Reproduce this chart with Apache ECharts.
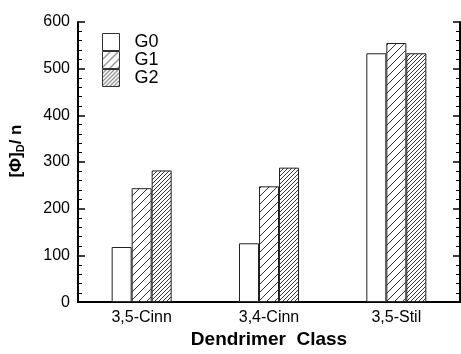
<!DOCTYPE html>
<html><head><meta charset="utf-8">
<script src="https://cdn.jsdelivr.net/npm/echarts@6/dist/echarts.min.js"></script>
<style>html,body{margin:0;padding:0;background:#fff}#c{width:461px;height:354px}</style>
</head><body><div id="c"></div>
<script>
var categories = ['3,5-Cinn', '3,4-Cinn', '3,5-Stil'];
var seriesNames = ['G0', 'G1', 'G2'];
var g0 = [118, 126, 533];
var g1 = [244, 248, 555];
var g2 = [282, 288, 533];
var yTicks = [0, 100, 200, 300, 400, 500, 600];

function hatch(step) {
  var c = document.createElement('canvas');
  c.width = step; c.height = step;
  var ctx = c.getContext('2d');
  ctx.fillStyle = '#fff'; ctx.fillRect(0, 0, step, step);
  ctx.strokeStyle = '#000'; ctx.lineWidth = 0.8;
  ctx.beginPath();
  ctx.moveTo(0, step); ctx.lineTo(step, 0);
  ctx.moveTo(-1, 1); ctx.lineTo(1, -1);
  ctx.moveTo(step - 1, step + 1); ctx.lineTo(step + 1, step - 1);
  ctx.stroke();
  return c;
}
var fills = ['#ffffff', {image: hatch(8), repeat: 'repeat'}, {image: hatch(4), repeat: 'repeat'}];
var values = [g0, g1, g2];
var font = 'Liberation Sans, Arial, sans-serif';

var chart = echarts.init(document.getElementById('c'), null, {renderer: 'canvas'});
var series = seriesNames.map(function (n, i) {
  return {
    name: n, type: 'bar', data: values[i], barWidth: 20, barGap: '0%',
    itemStyle: {color: fills[i], borderColor: '#222', borderWidth: 1}
  };
});
chart.setOption({
  animation: false,
  grid: {left: 76, right: 1, top: 22, bottom: 43},
  legend: {
    data: seriesNames, orient: 'vertical', left: 97, top: 28,
    itemWidth: 17, itemHeight: 17, itemGap: 0, icon: 'rect',
    itemStyle: {borderWidth: 1, borderColor: '#333'},
    textStyle: {fontFamily: font, fontSize: 18, color: '#000', lineHeight: 17, height: 17, padding: [0, 0, 0, 10]}
  },
  xAxis: [{
    type: 'category', data: categories, position: 'bottom',
    axisLine: {lineStyle: {color: '#000', width: 2}},
    axisTick: {inside: true, length: 6, lineStyle: {color: '#000', width: 1.5}},
    axisLabel: {fontFamily: font, fontSize: 16, color: '#000', margin: 7},
    name: 'Dendrimer  Class', nameLocation: 'middle', nameGap: 25,
    nameTextStyle: {fontFamily: font, fontSize: 19, fontWeight: 'bold', color: '#000', verticalAlign: 'top'}
  }, {
    type: 'category', data: categories, position: 'top',
    axisLine: {lineStyle: {color: '#000', width: 2}},
    axisTick: {inside: true, length: 6, lineStyle: {color: '#000', width: 1.5}},
    axisLabel: {show: false}
  }],
  yAxis: [{
    type: 'value', min: 0, max: 600, interval: 100, position: 'left',
    axisLine: {show: true, lineStyle: {color: '#000', width: 2}},
    axisTick: {show: true, inside: true, length: 7, lineStyle: {color: '#000', width: 1.5}},
    minorTick: {show: true, splitNumber: 5, length: 4, lineStyle: {color: '#000', width: 1}},
    splitLine: {show: false},
    axisLabel: {fontFamily: font, fontSize: 16, color: '#000', margin: 8,
      formatter: function (v) { return yTicks.indexOf(v) >= 0 ? String(v) : ''; }},
    name: '{a|[Φ]}{s|D}{a|/ n}', nameLocation: 'middle', nameGap: 52, nameRotate: 90,
    nameTextStyle: {padding: [0, 0, 0, 22], rich: {
      a: {fontFamily: font, fontSize: 17, fontWeight: 'bold', color: '#000'},
      s: {fontFamily: font, fontSize: 11, fontWeight: 'bold', color: '#000', verticalAlign: 'bottom', padding: [8, 0, 0, 0]}
    }}
  }, {
    type: 'value', min: 0, max: 600, interval: 100, position: 'right',
    axisLine: {show: true, lineStyle: {color: '#000', width: 2}},
    axisTick: {show: true, inside: true, length: 7, lineStyle: {color: '#000', width: 1.5}},
    minorTick: {show: true, splitNumber: 5, length: 4, lineStyle: {color: '#000', width: 1}},
    splitLine: {show: false},
    axisLabel: {show: false}
  }],
  series: series
});
</script></body></html>
